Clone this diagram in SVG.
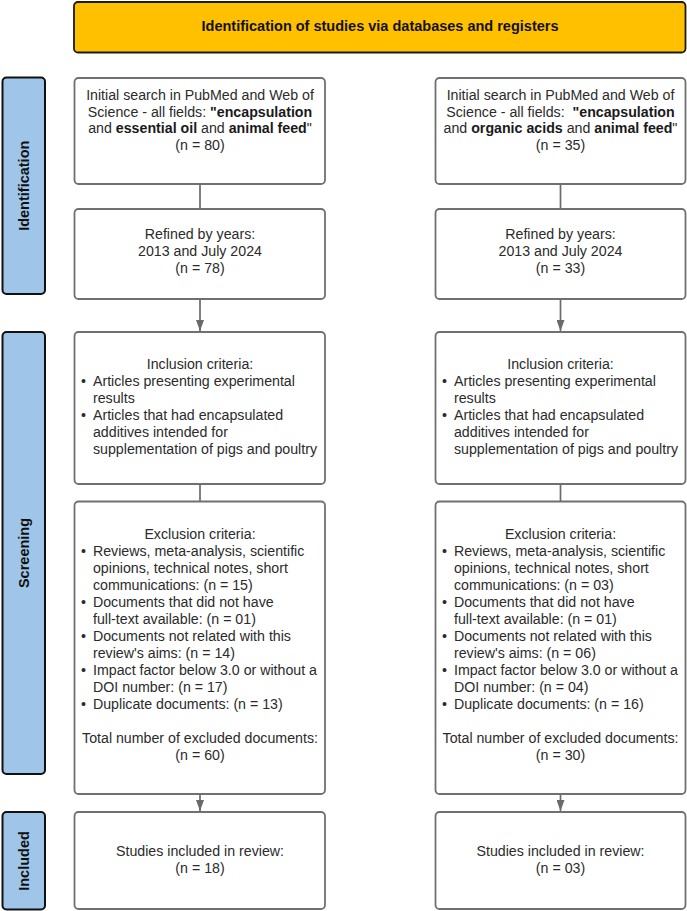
<svg xmlns="http://www.w3.org/2000/svg" width="687" height="911" viewBox="0 0 687 911">
<style>
  .box { fill: #ffffff; stroke: #707070; stroke-width: 1.8; }
  .hdr { fill: #FFC000; stroke: #1a1a1a; stroke-width: 1.8; }
  .lbl { fill: #9FC5E8; stroke: #111111; stroke-width: 2; }
  .t { font-family: "Liberation Sans", Arial, sans-serif; font-size: 15px; fill: #2b2b2b; }
  .c { text-anchor: middle; }
  .b { font-weight: bold; fill: #1a1a1a; }
  .ht { font-family: "Liberation Sans", Arial, sans-serif; font-size: 14.5px; font-weight: bold; fill: #111111; text-anchor: middle; }
  .lt { font-family: "Liberation Sans", Arial, sans-serif; font-size: 14.5px; font-weight: bold; fill: #111111; text-anchor: middle; }
  .con { stroke: #6a6a6a; stroke-width: 1.7; fill: none; }
</style>
<defs>
  <marker id="arr" viewBox="0 0 11 8" refX="11" refY="4" markerWidth="11" markerHeight="8" markerUnits="userSpaceOnUse" orient="auto">
    <path d="M0,0 L11,4 L0,8 z" fill="#6a6a6a"/>
  </marker>
</defs>

<g id="header">
  <rect class="hdr" x="74" y="2" width="611.5" height="50.5" rx="4"/>
  <text class="ht" x="380" y="31">Identification of studies via databases and registers</text>
</g>

<g id="label-identification">
  <rect class="lbl" x="2.5" y="77.5" width="42.5" height="216.5" rx="4"/>
  <text class="lt" transform="translate(28.5,185.75) rotate(-90)">Identification</text>
</g>
<g id="label-screening">
  <rect class="lbl" x="2.5" y="332" width="42.5" height="442" rx="4"/>
  <text class="lt" transform="translate(28.5,553) rotate(-90)">Screening</text>
</g>
<g id="label-included">
  <rect class="lbl" x="2.5" y="812" width="42.5" height="97.5" rx="4"/>
  <text class="lt" transform="translate(28.5,861) rotate(-90)">Included</text>
</g>

<g id="connectors">
  <line class="con" x1="200" y1="184" x2="200" y2="209"/>
  <line class="con" x1="200" y1="299" x2="200" y2="331" marker-end="url(#arr)"/>
  <line class="con" x1="200" y1="484" x2="200" y2="501.5"/>
  <line class="con" x1="200" y1="794" x2="200" y2="811" marker-end="url(#arr)"/>
  <line class="con" x1="560.5" y1="184" x2="560.5" y2="209"/>
  <line class="con" x1="560.5" y1="299" x2="560.5" y2="331" marker-end="url(#arr)"/>
  <line class="con" x1="560.5" y1="484" x2="560.5" y2="501.5"/>
  <line class="con" x1="560.5" y1="794" x2="560.5" y2="811" marker-end="url(#arr)"/>
</g>

<g id="left-search">
  <rect class="box" x="74.5" y="78" width="250.5" height="106" rx="4"/>
  <g transform="translate(200,0) scale(0.947,1) translate(-200,0)">
    <text class="t c" x="200" y="100">Initial search in PubMed and Web of</text>
    <text class="t c" x="200" y="116.7">Science - all fields: <tspan class="b">"encapsulation</tspan></text>
    <text class="t c" x="200" y="133.4">and <tspan class="b">essential oil</tspan> and <tspan class="b">animal feed</tspan>"</text>
    <text class="t c" x="200" y="150">(n = 80)</text>
  </g>
</g>
<g id="left-refined">
  <rect class="box" x="74.5" y="209" width="250.5" height="90" rx="4"/>
  <g transform="translate(200,0) scale(0.947,1) translate(-200,0)">
    <text class="t c" x="200" y="239.5">Refined by years:</text>
    <text class="t c" x="200" y="256.5">2013 and July 2024</text>
    <text class="t c" x="200" y="273.5">(n = 78)</text>
  </g>
</g>
<g id="left-inclusion">
  <rect class="box" x="74.5" y="332" width="250.5" height="152" rx="4"/>
  <g transform="translate(200,0) scale(0.947,1) translate(-200,0)">
    <text class="t c" x="200" y="368.7">Inclusion criteria:</text>
    <text class="t" x="74.3" y="385.8">•</text>
    <text class="t" x="87" y="385.8">Articles presenting experimental</text>
    <text class="t" x="87" y="402.9">results</text>
    <text class="t" x="74.3" y="420">•</text>
    <text class="t" x="87" y="420">Articles that had encapsulated</text>
    <text class="t" x="87" y="437.1">additives intended for</text>
    <text class="t" x="87" y="454.2">supplementation of pigs and poultry</text>
  </g>
</g>
<g id="left-exclusion">
  <rect class="box" x="74.5" y="501.5" width="250.5" height="292.5" rx="4"/>
  <g transform="translate(200,0) scale(0.947,1) translate(-200,0)">
    <text class="t c" x="200" y="539">Exclusion criteria:</text>
    <text class="t" x="74.3" y="556">•</text>
    <text class="t" x="87" y="556">Reviews, meta-analysis, scientific</text>
    <text class="t" x="87" y="573">opinions, technical notes, short</text>
    <text class="t" x="87" y="590">communications: (n = 15)</text>
    <text class="t" x="74.3" y="607">•</text>
    <text class="t" x="87" y="607">Documents that did not have</text>
    <text class="t" x="87" y="624">full-text available: (n = 01)</text>
    <text class="t" x="74.3" y="641">•</text>
    <text class="t" x="87" y="641">Documents not related with this</text>
    <text class="t" x="87" y="658">review's aims: (n = 14)</text>
    <text class="t" x="74.3" y="675">•</text>
    <text class="t" x="87" y="675">Impact factor below 3.0 or without a</text>
    <text class="t" x="87" y="692">DOI number: (n = 17)</text>
    <text class="t" x="74.3" y="709">•</text>
    <text class="t" x="87" y="709">Duplicate documents: (n = 13)</text>
    <text class="t c" x="200" y="743.5">Total number of excluded documents:</text>
    <text class="t c" x="200" y="760.5">(n = 60)</text>
  </g>
</g>
<g id="left-included">
  <rect class="box" x="74.5" y="812" width="250.5" height="97" rx="4"/>
  <g transform="translate(200,0) scale(0.947,1) translate(-200,0)">
    <text class="t c" x="200" y="856.3">Studies included in review:</text>
    <text class="t c" x="200" y="873.3">(n = 18)</text>
  </g>
</g>

<g id="right-search">
  <rect class="box" x="435.5" y="78" width="250" height="106" rx="4"/>
  <g transform="translate(560.5,0) scale(0.947,1) translate(-560.5,0)">
    <text class="t c" x="560.5" y="100">Initial search in PubMed and Web of</text>
    <text class="t c" x="560.5" y="116.7" xml:space="preserve">Science - all fields:  <tspan class="b">"encapsulation</tspan></text>
    <text class="t c" x="560.5" y="133.4">and <tspan class="b">organic acids</tspan> and <tspan class="b">animal feed</tspan>"</text>
    <text class="t c" x="560.5" y="150">(n = 35)</text>
  </g>
</g>
<g id="right-refined">
  <rect class="box" x="435.5" y="209" width="250" height="90" rx="4"/>
  <g transform="translate(560.5,0) scale(0.947,1) translate(-560.5,0)">
    <text class="t c" x="560.5" y="239.5">Refined by years:</text>
    <text class="t c" x="560.5" y="256.5">2013 and July 2024</text>
    <text class="t c" x="560.5" y="273.5">(n = 33)</text>
  </g>
</g>
<g id="right-inclusion">
  <rect class="box" x="435.5" y="332" width="250" height="152" rx="4"/>
  <g transform="translate(560.5,0) scale(0.947,1) translate(-560.5,0)">
    <text class="t c" x="560.5" y="368.7">Inclusion criteria:</text>
    <text class="t" x="435.4" y="385.8">•</text>
    <text class="t" x="448" y="385.8">Articles presenting experimental</text>
    <text class="t" x="448" y="402.9">results</text>
    <text class="t" x="435.4" y="420">•</text>
    <text class="t" x="448" y="420">Articles that had encapsulated</text>
    <text class="t" x="448" y="437.1">additives intended for</text>
    <text class="t" x="448" y="454.2">supplementation of pigs and poultry</text>
  </g>
</g>
<g id="right-exclusion">
  <rect class="box" x="435.5" y="501.5" width="250" height="292.5" rx="4"/>
  <g transform="translate(560.5,0) scale(0.947,1) translate(-560.5,0)">
    <text class="t c" x="560.5" y="539">Exclusion criteria:</text>
    <text class="t" x="435.4" y="556">•</text>
    <text class="t" x="448" y="556">Reviews, meta-analysis, scientific</text>
    <text class="t" x="448" y="573">opinions, technical notes, short</text>
    <text class="t" x="448" y="590">communications: (n = 03)</text>
    <text class="t" x="435.4" y="607">•</text>
    <text class="t" x="448" y="607">Documents that did not have</text>
    <text class="t" x="448" y="624">full-text available: (n = 01)</text>
    <text class="t" x="435.4" y="641">•</text>
    <text class="t" x="448" y="641">Documents not related with this</text>
    <text class="t" x="448" y="658">review's aims: (n = 06)</text>
    <text class="t" x="435.4" y="675">•</text>
    <text class="t" x="448" y="675">Impact factor below 3.0 or without a</text>
    <text class="t" x="448" y="692">DOI number: (n = 04)</text>
    <text class="t" x="435.4" y="709">•</text>
    <text class="t" x="448" y="709">Duplicate documents: (n = 16)</text>
    <text class="t c" x="560.5" y="743.5">Total number of excluded documents:</text>
    <text class="t c" x="560.5" y="760.5">(n = 30)</text>
  </g>
</g>
<g id="right-included">
  <rect class="box" x="435.5" y="812" width="250" height="97" rx="4"/>
  <g transform="translate(560.5,0) scale(0.947,1) translate(-560.5,0)">
    <text class="t c" x="560.5" y="856.3">Studies included in review:</text>
    <text class="t c" x="560.5" y="873.3">(n = 03)</text>
  </g>
</g>
</svg>
